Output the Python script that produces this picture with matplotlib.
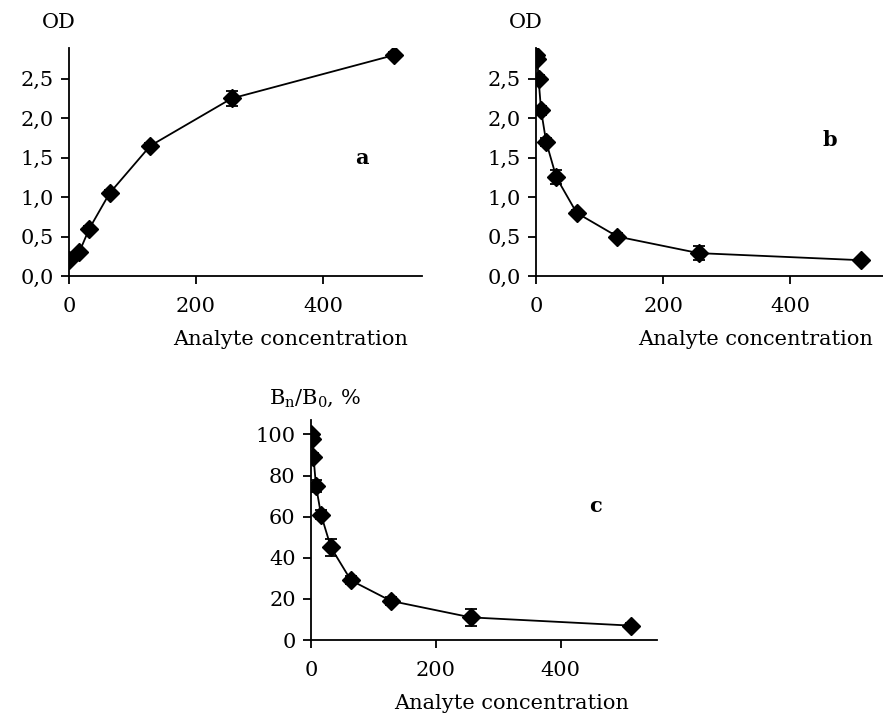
import matplotlib.pyplot as plt
from matplotlib.ticker import FuncFormatter

plt.rcParams["font.family"] = ["DejaVu Serif"]
plt.rcParams["mathtext.fontset"] = "dejavuserif"

# panel a - direct assay
conc_a = [0, 16, 32, 64, 128, 256, 512]
od_a = [0.2, 0.3, 0.6, 1.05, 1.65, 2.25, 2.8]
err_a = [0.03, 0.03, 0.04, 0.04, 0.04, 0.09, 0.04]

# panel b - competitive assay
conc_b = [0, 2, 4, 8, 16, 32, 64, 128, 256, 512]
od_b = [2.8, 2.75, 2.5, 2.1, 1.7, 1.25, 0.8, 0.5, 0.29, 0.2]
err_b = [0.04, 0.04, 0.05, 0.06, 0.05, 0.09, 0.04, 0.05, 0.09, 0.03]

# panel c - normalised
conc_c = [0, 2, 4, 8, 16, 32, 64, 128, 256, 512]
pct_c = [100, 98, 89, 75, 61, 45, 29, 19, 11, 7]
err_c = [1.5, 2, 2, 3, 2, 4, 2, 2, 4, 1.5]

od_ticks = [0.0, 0.5, 1.0, 1.5, 2.0, 2.5]
pct_ticks = [0, 20, 40, 60, 80, 100]
x_ticks = [0, 200, 400]

FS = 15

fig = plt.figure(figsize=(8.83, 7.17), dpi=100)
W, H = 883, 717


def make_ax(left, right, top, bottom):
    return fig.add_axes([left / W, 1 - bottom / H, (right - left) / W, (bottom - top) / H])


def style(ax, x, y, err, letter, letter_pos, ylabel, ylabel_pos, xlabel_pos):
    ax.errorbar(x, y, yerr=err, color="black", lw=1.3, marker="D", ms=9,
                capsize=4, elinewidth=1.3, capthick=1.3)
    for s in ["top", "right"]:
        ax.spines[s].set_visible(False)
    ax.spines["left"].set_linewidth(1.3)
    ax.spines["bottom"].set_linewidth(1.3)
    ax.tick_params(direction="out", length=6, width=1.3, labelsize=FS)
    ax.tick_params(axis="x", pad=9)
    ax.tick_params(axis="y", pad=5)
    ax.set_xticks(x_ticks)
    ax.text(letter_pos[0], letter_pos[1], letter, fontsize=FS, fontweight="bold",
            ha="center", va="center")
    ax.text(ylabel_pos[0], ylabel_pos[1], ylabel, fontsize=FS, ha="center",
            va="center", transform=ax.transAxes)
    ax.text(xlabel_pos[0], xlabel_pos[1], "Analyte concentration", fontsize=FS,
            ha="right", va="center", transform=ax.transAxes)


comma = FuncFormatter(lambda v, p: ("%.1f" % v).replace(".", ","))

ax_a = make_ax(69, 422, 48, 276)
ax_a.set_xlim(0, 556)
ax_a.set_ylim(0, 2.89)
ax_a.set_yticks(od_ticks)
ax_a.yaxis.set_major_formatter(comma)
style(ax_a, conc_a, od_a, err_a, "a", (461, 1.49), "OD", (-0.03, 1.11), (0.96, -0.28))

ax_b = make_ax(536, 883, 48, 276)
ax_b.set_xlim(0, 546)
ax_b.set_ylim(0, 2.89)
ax_b.set_yticks(od_ticks)
ax_b.yaxis.set_major_formatter(comma)
style(ax_b, conc_b, od_b, err_b, "b", (463, 1.72), "OD", (-0.03, 1.11), (0.97, -0.28))

ax_c = make_ax(311, 657, 420, 640)
ax_c.set_xlim(0, 554)
ax_c.set_ylim(0, 107)
ax_c.set_yticks(pct_ticks)
style(ax_c, conc_c, pct_c, err_c, "c", (456, 65), r"B$_{\rm n}$/B$_{\rm 0}$, %",
      (0.01, 1.1), (0.92, -0.29))

fig.savefig("out.png", dpi=100)
